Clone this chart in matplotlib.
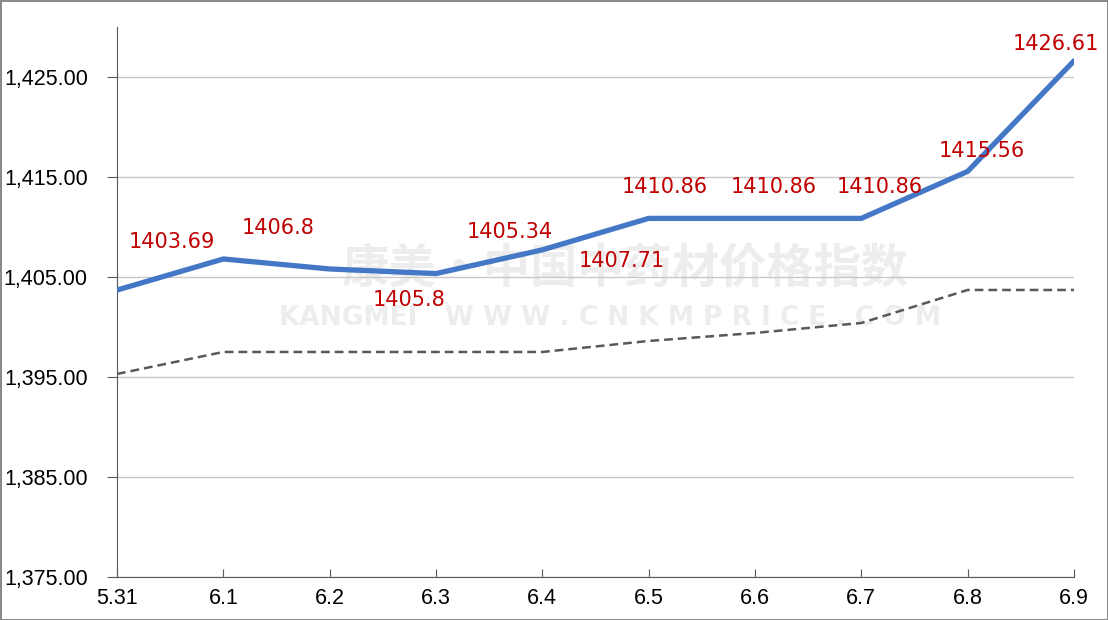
import matplotlib.pyplot as plt
from matplotlib.ticker import FuncFormatter

dates = ["5.31", "6.1", "6.2", "6.3", "6.4", "6.5", "6.6", "6.7", "6.8", "6.9"]
index_vals = [1403.69, 1406.8, 1405.8, 1405.34, 1407.71, 1410.86, 1410.86, 1410.86, 1415.56, 1426.61]
avg_vals = [1395.3, 1397.5, 1397.5, 1397.5, 1397.5, 1398.6, 1399.4, 1400.4, 1403.7, 1403.7]
# label offsets in pixels (labels sit a little off their points in the original)
label_dx = [55, 55, 79, 74, 79, 16, 19, 18, 14, -18]
label_dy = [48, 31, -31, 42, -11, 31, 31, 31, 20, 17]

plt.rcParams['font.family'] = ['DejaVu Sans']

fig = plt.figure(figsize=(11.08, 6.20), dpi=100)
fig.patch.set_edgecolor('#8a8a8a')
fig.patch.set_linewidth(2)
ax = fig.add_axes([0.1056, 0.0694, 0.8637, 0.8871])

x = list(range(len(dates)))

# watermark
ax.text(0.53, 0.56, "康美·中国中药材价格指数", transform=ax.transAxes, ha='center', va='center',
        fontsize=34, fontweight='bold', color='#ededed', family=['Noto Sans CJK SC'], zorder=0)
ax.text(0.515, 0.47, "KANGMEI   W W W . C N K M P R I C E . C O M", transform=ax.transAxes,
        ha='center', va='center', fontsize=19, fontweight='bold', color='#ededed', zorder=0)

ax.plot(x, avg_vals, color='#595959', linewidth=1.8, linestyle=(0, (3.5, 2)), zorder=3)
ax.plot(x, index_vals, color='#4478c6', linewidth=3.8, solid_capstyle='round', zorder=4)

for i, v in enumerate(index_vals):
    ax.annotate(f"{v:g}", (x[i], v), xytext=(label_dx[i], label_dy[i]), textcoords='offset pixels',
                ha='center', va='center', fontsize=15, color='#c00000', zorder=5)

ax.set_xlim(0, len(dates) - 1)
ax.set_ylim(1375, 1430)
ax.set_yticks([1375, 1385, 1395, 1405, 1415, 1425])
ax.yaxis.set_major_formatter(FuncFormatter(lambda v, p: f"{v:,.2f}"))
ax.set_xticks(x)
ax.set_xticklabels(dates)
ax.grid(axis='y', color='#c8c8c8', linewidth=1)
ax.set_axisbelow(True)

for s in ['top', 'right']:
    ax.spines[s].set_visible(False)
ax.spines['left'].set_color('#595959')
ax.spines['bottom'].set_color('#595959')
ax.tick_params(axis='y', direction='out', length=7, color='#595959', labelsize=15.5, pad=14)
ax.tick_params(axis='x', direction='in', length=6, color='#595959', labelsize=15.5, pad=8)
for lbl in ax.get_yticklabels() + ax.get_xticklabels():
    lbl.set_family(['Liberation Sans'])

fig.savefig("out.png", dpi=100)
